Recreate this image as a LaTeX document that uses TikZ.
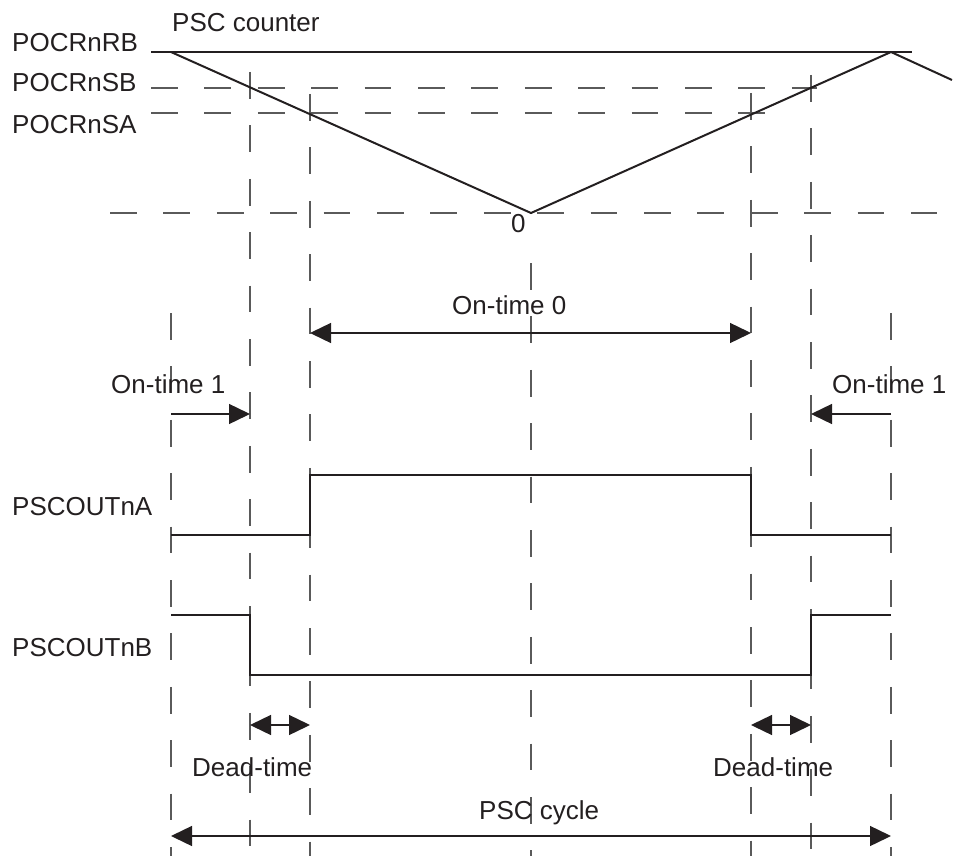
\documentclass[tikz,border=0pt]{standalone}
\usepackage{fontspec}
\setmainfont{Liberation Sans}
\usetikzlibrary{arrows.meta}
\definecolor{ink}{HTML}{231F20}
\definecolor{grid}{HTML}{5A5A5A}
\begin{document}
\begin{tikzpicture}[x=1pt,y=-1pt,
  lbl/.style={anchor=base west,inner sep=0pt,text=ink,font=\fontsize{26}{30}\selectfont},
  guide/.style={draw=grid,line width=1.3pt,dash pattern=on 26.7pt off 26.7pt},
  ramp/.style={draw=ink,line width=2pt,line join=miter},
  level/.style={draw=ink,line width=1.3pt},
  sig/.style={draw=ink,line width=2pt,line join=miter},
  dim/.style={draw=ink,line width=1.4pt},
  tipb/.style={-{Triangle[length=21pt,width=20pt]}},
  tipbb/.style={{Triangle[length=21pt,width=20pt]}-{Triangle[length=21pt,width=20pt]}}
]
\useasboundingbox (0,0) rectangle (961,856);

% x positions
\def\xA{171}\def\xB{250}\def\xC{310}\def\xM{531}\def\xD{751}\def\xE{811}\def\xF{891}

% vertical guide lines
\coordinate (vAt) at (\xA,313); \coordinate (vAb) at (\xA,856);
\coordinate (vBt) at (\xB,72);  \coordinate (vBb) at (\xB,856);
\coordinate (vCt) at (\xC,94);  \coordinate (vCb) at (\xC,856);
\coordinate (vMt) at (\xM,263); \coordinate (vMb) at (\xM,856);
\coordinate (vDt) at (\xD,93);  \coordinate (vDb) at (\xD,856);
\coordinate (vEt) at (\xE,75);  \coordinate (vEb) at (\xE,856);
\coordinate (vFt) at (\xF,313); \coordinate (vFb) at (\xF,856);
\foreach \n in {A,B,C,M,D,E,F} \draw[guide] (v\n t) -- (v\n b);

% horizontal reference levels
\coordinate (rbL) at (151,52);  \coordinate (rbR) at (912,52);
\coordinate (sbL) at (151,88);  \coordinate (sbR) at (817,88);
\coordinate (saL) at (151,113); \coordinate (saR) at (765,113);
\coordinate (zL) at (110,213);  \coordinate (zR) at (937,213);
\draw[level] (rbL) -- (rbR);
\draw[guide] (sbL) -- (sbR);
\draw[guide] (saL) -- (saR);
\draw[guide] (zL) -- (zR);

% counter ramp
\coordinate (c0) at (\xA,52);
\coordinate (c1) at (\xM,213);
\coordinate (c2) at (\xF,52);
\coordinate (c3) at (952,80);
\draw[ramp] (c0) -- (c1) -- (c2) -- (c3);

% labels top
\node[lbl] (tcnt) at (172,32) {PSC counter};
\node[lbl] (trb) at (12,52) {POCRnRB};
\node[lbl] (tsb) at (12,92) {POCRnSB};
\node[lbl] (tsa) at (12,134) {POCRnSA};
\node[lbl] (tz) at (511,232) {0};

% On-time 0
\coordinate (o0L) at (\xC,333); \coordinate (o0R) at (\xD,333);
\draw[dim,tipbb] (o0L) -- (o0R);
\node[lbl] (to0) at (452,314) {On-time 0};

% On-time 1
\coordinate (o1La) at (\xA,414); \coordinate (o1Lb) at (\xB,414);
\coordinate (o1Ra) at (\xF,414); \coordinate (o1Rb) at (\xE,414);
\draw[dim,tipb] (o1La) -- (o1Lb);
\draw[dim,tipb] (o1Ra) -- (o1Rb);
\node[lbl] (to1L) at (111,393) {On-time 1};
\node[lbl] (to1R) at (832,393) {On-time 1};

% PSCOUTnA
\coordinate (a0) at (\xA,535); \coordinate (a1) at (\xC,535);
\coordinate (a2) at (\xC,475); \coordinate (a3) at (\xD,475);
\coordinate (a4) at (\xD,535); \coordinate (a5) at (\xF,535);
\draw[sig] (a0) -- (a1) -- (a2) -- (a3) -- (a4) -- (a5);
\node[lbl] (tA) at (12,515) {PSCOUTnA};

% PSCOUTnB
\coordinate (b0) at (\xA,615); \coordinate (b1) at (\xB,615);
\coordinate (b2) at (\xB,675); \coordinate (b3) at (\xE,675);
\coordinate (b4) at (\xE,615); \coordinate (b5) at (\xF,615);
\draw[sig] (b0) -- (b1) -- (b2) -- (b3) -- (b4) -- (b5);
\node[lbl] (tB) at (12,656) {PSCOUTnB};

% Dead-time
\coordinate (d1a) at (\xB,725); \coordinate (d1b) at (\xC,725);
\coordinate (d2a) at (\xD,725); \coordinate (d2b) at (\xE,725);
\draw[dim,tipbb] (d1a) -- (d1b);
\draw[dim,tipbb] (d2a) -- (d2b);
\node[lbl] (td1) at (192,776) {Dead-time};
\node[lbl] (td2) at (713,776) {Dead-time};

% PSC cycle
\coordinate (pcL) at (\xA,836); \coordinate (pcR) at (\xF,836);
\draw[dim,tipbb] (pcL) -- (pcR);
\node[lbl] (tpc) at (479,819) {PSC cycle};
\end{tikzpicture}
\end{document}
